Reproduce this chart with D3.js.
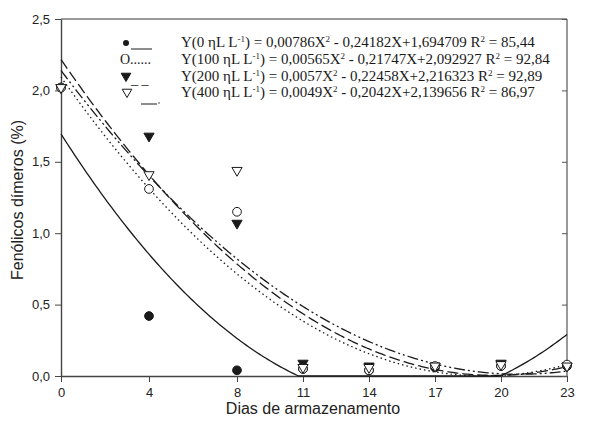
<!DOCTYPE html>
<html><head><meta charset="utf-8">
<script src="https://cdn.jsdelivr.net/npm/d3@7"></script>
<style>body{margin:0;background:#fff}svg{display:block}</style>
</head><body><svg id="c" width="592" height="421"></svg>
<script>
const days = [0, 4, 8, 11, 14, 17, 20, 23];
const xTicks = [0, 4, 8, 11, 14, 17, 20, 23];
const yTicks = [0, 0.5, 1.0, 1.5, 2.0, 2.5];
const dose0   = [2.02, 0.42, 0.04, 0.05, 0.04, 0.06, 0.07, 0.07];
const dose100 = [2.02, 1.31, 1.15, 0.05, 0.04, 0.07, 0.07, 0.08];
const dose200 = [2.02, 1.68, 1.07, 0.09, 0.07, 0.07, 0.09, 0.07];
const dose400 = [2.02, 1.41, 1.44, 0.06, 0.06, 0.07, 0.08, 0.07];
// regression coefficients printed in legend: a X^2 + b X + c
const coefA = [0.00786, 0.00565, 0.0057, 0.0049];
const coefB = [-0.24182, -0.21747, -0.22458, -0.2042];
const coefC = [1.694709, 2.092927, 2.216323, 2.139656];
const legendText = [
  ["Y(0 ηL L", "-1", ") = 0,00786X", "2", " - 0,24182X+1,694709 R", "2", " = 85,44"],
  ["Y(100 ηL L", "-1", ") = 0,00565X", "2", " - 0,21747X+2,092927 R", "2", " = 92,84"],
  ["Y(200 ηL L", "-1", ") = 0,0057X", "2", " - 0,22458X+2,216323 R", "2", " = 92,89"],
  ["Y(400 ηL L", "-1", ") = 0,0049X", "2", " - 0,2042X+2,139656 R", "2", " = 86,97"]
];

const svg = d3.select("#c");
const L = 61, R = 567, T = 19, B = 376;
const x = d3.scaleLinear().domain([0, 23]).range([L, R]);
const y = d3.scaleLinear().domain([0, 2.5]).range([B, T]);
const ink = "#1a1a1a";

// frame
svg.append("line").attr("x1", L).attr("x2", R).attr("y1", T).attr("y2", T).attr("stroke", "#777").attr("stroke-width", 1.5);
svg.append("line").attr("x1", R).attr("x2", R).attr("y1", T).attr("y2", B).attr("stroke", "#555").attr("stroke-width", 1.2);

const fontSans = "Arial, 'Liberation Sans', sans-serif";
const xa = svg.append("g").attr("transform", `translate(0,${B})`)
  .call(d3.axisBottom(x).tickValues(xTicks).tickSize(6).tickSizeOuter(0).tickPadding(6).tickFormat(d => d));
const ya = svg.append("g").attr("transform", `translate(${L},0)`)
  .call(d3.axisLeft(y).tickValues(yTicks).tickSize(6).tickSizeOuter(0).tickPadding(5).tickFormat(d => d3.format(".1f")(d).replace(".", ",")));
[xa, ya].forEach(a => {
  a.select(".domain").attr("stroke", "#444").attr("stroke-width", 1.4);
  a.selectAll(".tick line").attr("stroke", "#444");
  a.selectAll("text").attr("font-family", fontSans).attr("font-size", 13).attr("fill", "#222");
});
// right axis inner ticks
svg.append("g").attr("transform", `translate(${R},0)`)
  .call(d3.axisRight(y).tickValues(yTicks).tickSize(-5).tickSizeOuter(0).tickFormat(""))
  .call(g => { g.select(".domain").remove(); g.selectAll("line").attr("stroke", "#555"); });

// axis titles
svg.append("text").attr("x", 313).attr("y", 414).attr("text-anchor", "middle")
  .attr("font-family", fontSans).attr("font-size", 16).attr("fill", "#222").text("Dias de armazenamento");
svg.append("text").attr("transform", `translate(23,200) rotate(-90)`).attr("text-anchor", "middle")
  .attr("font-family", fontSans).attr("font-size", 16).attr("fill", "#222").text("Fenólicos dímeros (%)");

// regression curves
const dashes = [null, "1.5,3", "11,4", "11,3,2,3,2,3"];
const sample = d3.range(0, 23.001, 0.1);
coefA.forEach((a, i) => {
  const pts = sample.map(t => [t, Math.max(0, a * t * t + coefB[i] * t + coefC[i])]);
  svg.append("path").datum(pts)
    .attr("d", d3.line().x(d => x(d[0])).y(d => y(d[1])))
    .attr("fill", "none").attr("stroke", ink).attr("stroke-width", 1.3)
    .attr("stroke-dasharray", dashes[i]);
});

// markers
const series = [
  {vals: dose0, type: d3.symbolCircle, fill: ink, size: 60},
  {vals: dose200, type: d3.symbolTriangle, fill: ink, size: 45, flip: true},
  {vals: dose100, type: d3.symbolCircle, fill: "#fff", size: 60},
  {vals: dose400, type: d3.symbolTriangle, fill: "#fff", size: 45, flip: true}
];
function drawSym(g, s, cx, cy) {
  g.append("path").attr("d", d3.symbol().type(s.type).size(s.size)())
    .attr("transform", `translate(${cx},${cy})` + (s.flip ? " rotate(180)" : ""))
    .attr("fill", s.fill).attr("stroke", ink).attr("stroke-width", 1);
}
const mg = svg.append("g");
series.forEach(s => {
  s.vals.forEach((v, j) => drawSym(mg, s, x(days[j]), y(v)));
});

// legend
const lg = svg.append("g");
const rowsY = [47, 64, 81, 97];
const fontSerif = "'Liberation Serif', 'Times New Roman', serif";
lg.append("circle").attr("cx", 126).attr("cy", rowsY[0] - 4).attr("r", 3).attr("fill", ink);
lg.append("line").attr("x1", 131).attr("x2", 152).attr("y1", rowsY[0] + 2).attr("y2", rowsY[0] + 2).attr("stroke", ink);
lg.append("text").attr("x", 120).attr("y", rowsY[1]).attr("font-family", fontSerif).attr("font-size", 14).attr("fill", ink).text("O......");
drawSym(lg, {type: d3.symbolTriangle, fill: ink, size: 40, flip: true}, 126, rowsY[2] - 5);
lg.append("text").attr("x", 131).attr("y", rowsY[2] + 3).attr("font-family", fontSerif).attr("font-size", 14).attr("fill", ink).text("_ _");
drawSym(lg, {type: d3.symbolTriangle, fill: "#fff", size: 40, flip: true}, 127, rowsY[3] - 5);
lg.append("line").attr("x1", 141).attr("x2", 157).attr("y1", rowsY[3] + 7).attr("y2", rowsY[3] + 7).attr("stroke", ink);
lg.append("circle").attr("cx", 159).attr("cy", rowsY[3] + 6).attr("r", 0.7).attr("fill", ink);

legendText.forEach((parts, i) => {
  const t = lg.append("text").attr("x", 181).attr("y", rowsY[i])
    .attr("font-family", fontSerif).attr("font-size", 15).attr("fill", ink);
  parts.forEach((p, k) => {
    const sup = k % 2 === 1;
    t.append("tspan").attr("font-size", sup ? 9 : 15)
      .attr("dy", sup ? -5.5 : (k > 0 ? 5.5 : 0)).text(p);
  });
});
</script></body></html>
